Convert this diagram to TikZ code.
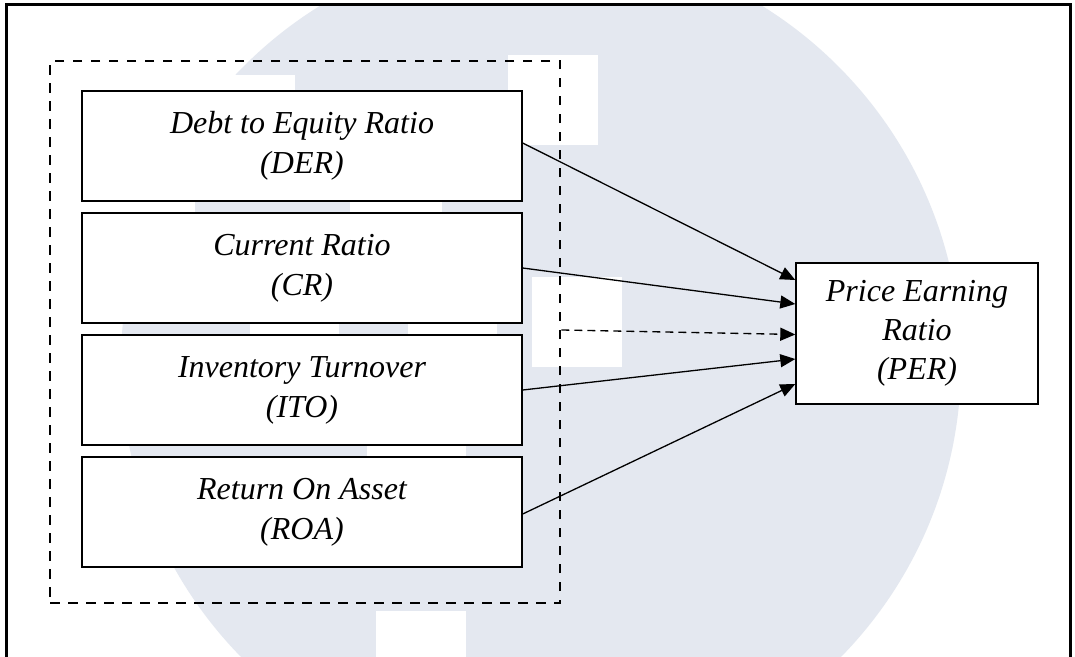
\documentclass[tikz,border=0pt]{standalone}
\usepackage{fontspec}
\setmainfont{Liberation Serif}
\usetikzlibrary{arrows.meta}
\definecolor{wm}{RGB}{228,232,240}
\begin{document}
\begin{tikzpicture}[x=1pt,y=-1pt,
  varbox/.style={draw, line width=1.4pt, fill=white, minimum width=440pt,
    minimum height=110pt, inner sep=0pt, align=center,
    font=\fontsize{32}{40}\selectfont\itshape},
  groupbox/.style={draw, line width=2.8pt, dash pattern=on 9.5pt off 8.5pt,
    minimum width=510pt, minimum height=542pt, inner sep=0pt},
  link/.style={line width=1.3pt, -{Triangle[length=15pt,width=13pt]}},
  dlink/.style={link, dash pattern=on 8pt off 5pt},
  frameline/.style={line width=3pt}]
\useasboundingbox (0,0) rectangle (1075,656);
\fill[white] (0,0) rectangle (1075,656);
% watermark
\begin{scope}
  \clip (6,4) rectangle (1070,656);
  \fill[wm] (541,363) circle[radius=420];
  \fill[white] (150,75) rectangle (295,150);
  \fill[white] (140,150) rectangle (195,213);
  \fill[white] (350,150) rectangle (442,230);
  \fill[white] (250,300) rectangle (339,340);
  \fill[white] (408,300) rectangle (497,340);
  \fill[white] (367,430) rectangle (466,470);
  \fill[white] (508,55) rectangle (598,145);
  \fill[white] (532,277) rectangle (622,367);
  \fill[white] (376,611) rectangle (466,660);
\end{scope}
\draw[frameline] (6,660) -- (6,4) -- (1070,4) -- (1070,660);
\node[groupbox] (grp) at (305,332) {};
\node[varbox] (der) at (302,146) {Debt to Equity Ratio\\(DER)};
\node[varbox] (cr) at (302,268) {Current Ratio\\(CR)};
\node[varbox] (ito) at (302,390) {Inventory Turnover\\(ITO)};
\node[varbox] (roa) at (302,512) {Return On Asset\\(ROA)};
\node[varbox, minimum width=242pt, minimum height=141pt,
  font=\fontsize{32}{39}\selectfont\itshape] (per) at (917,333.5)
  {Price Earning\\Ratio\\(PER)};
\draw[link] ([yshift=3pt]der.east) -- ([yshift=53.5pt]per.west);
\draw[link] (cr.east) -- ([yshift=29.5pt]per.west);
\draw[dlink] ([yshift=2pt]grp.east) -- ([yshift=-1pt]per.west);
\draw[link] (ito.east) -- ([yshift=-25.5pt]per.west);
\draw[link] ([yshift=-2pt]roa.east) -- ([yshift=-50.5pt]per.west);
\end{tikzpicture}
\end{document}
